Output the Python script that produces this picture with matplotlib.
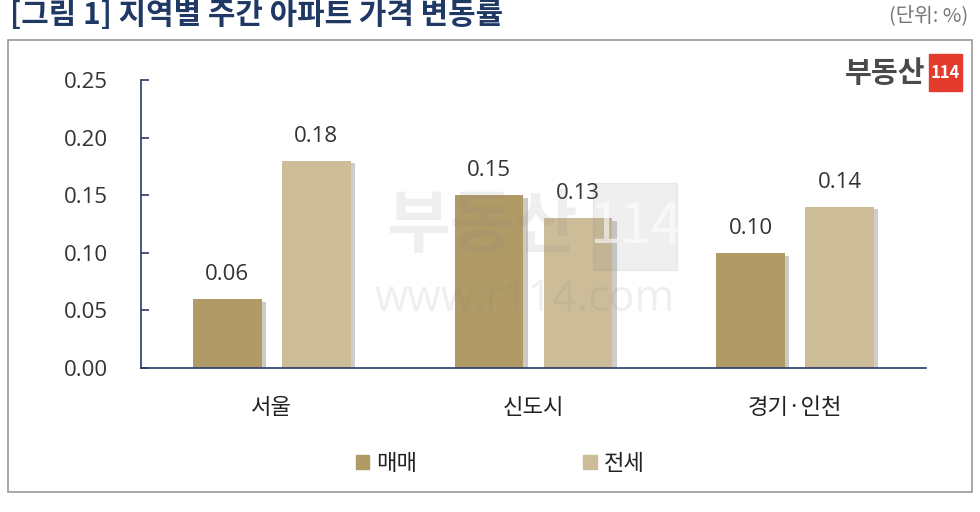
import matplotlib
matplotlib.use('Agg')
import matplotlib.pyplot as plt
import matplotlib.patheffects as pe
import numpy as np
from matplotlib.patches import Rectangle

plt.rcParams['font.family'] = ['Noto Sans CJK KR', 'DejaVu Sans']

# data
regions = ['서울', '신도시', '경기·인천']
sale = [0.06, 0.15, 0.10]     # 매매
jeonse = [0.18, 0.13, 0.14]   # 전세
series_names = ['매매', '전세']
yticks = [0.00, 0.05, 0.10, 0.15, 0.20, 0.25]

C_SALE = '#B09A66'
C_JEONSE = '#CDBC98'
NAVY = '#2B3A67'
NUM_FONT = ['Open Sans', 'Noto Sans CJK KR']

fig = plt.figure(figsize=(9.8, 5.12), dpi=100)

# outer frame
fig.patches.append(Rectangle((8 / 980, 1 - 492 / 512), 964 / 980, 452 / 512,
                             transform=fig.transFigure, fill=False,
                             edgecolor='#9A9A9A', linewidth=1.2))

fig.text(10 / 980, 1 - 15 / 512, '[그림 1] 지역별 주간 아파트 가격 변동률',
         fontsize=21.5, fontweight='bold', color='#1F3864', va='center', ha='left')
fig.text(968 / 980, 1 - 16 / 512, '(단위: %)', fontsize=14.5, color='#777777',
         va='center', ha='right')

# logo
fig.text(925 / 980, 1 - 73 / 512, '부동산', fontsize=21, fontweight='heavy',
         color='#4A4A4A', va='center', ha='right')
fig.patches.append(Rectangle((929 / 980, 1 - 91 / 512), 33 / 980, 37 / 512,
                             transform=fig.transFigure, color='#E33B2E'))
fig.text(945.5 / 980, 1 - 72.5 / 512, '114', fontsize=12, fontweight='bold',
         color='white', va='center', ha='center')

ax = fig.add_axes([141 / 980, 1 - 368 / 512, 785 / 980, 288 / 512])

x = np.arange(len(regions))
w = 0.263
off = 0.17
shadow = [pe.SimplePatchShadow(offset=(3, -2), alpha=0.25), pe.Normal()]
b1 = ax.bar(x - off, sale, w, color=C_SALE, zorder=2, path_effects=shadow)
b2 = ax.bar(x + off, jeonse, w, color=C_JEONSE, zorder=2, path_effects=shadow)

for bars, vals in ((b1, sale), (b2, jeonse)):
    for r, v in zip(bars, vals):
        ax.annotate('%.2f' % v, (r.get_x() + r.get_width() / 2, v),
                    xytext=(0, 10), textcoords='offset points', family=NUM_FONT,
                    ha='center', va='bottom', fontsize=16, color='#333333')

ax.set_xlim(-0.5, 2.5)
ax.set_ylim(0, 0.25)
ax.set_yticks(yticks)
ax.set_yticklabels(['%.2f' % t for t in yticks], family=NUM_FONT)
ax.set_xticks(x)
ax.set_xticklabels(regions)
ax.tick_params(axis='y', direction='in', length=6, color=NAVY, width=1.2,
               labelsize=16, labelcolor='#333333', pad=24)
ax.tick_params(axis='x', length=0, labelsize=16, labelcolor='#222222', pad=20)
for s in ('top', 'right'):
    ax.spines[s].set_visible(False)
for s in ('left', 'bottom'):
    ax.spines[s].set_color(NAVY)
    ax.spines[s].set_linewidth(1.2)

# watermark
fig.text(482 / 980, 1 - 227 / 512, '부동산', fontsize=50, fontweight='heavy',
         color='#808080', alpha=0.12, ha='center', va='center', zorder=5)
fig.patches.append(Rectangle((593 / 980, 1 - 270 / 512), 84 / 980, 87 / 512,
                             transform=fig.transFigure, color='#808080',
                             alpha=0.12, zorder=5))
fig.text(635 / 980, 1 - 227 / 512, '114', fontsize=40,
         color='white', alpha=0.6, ha='center', va='center', zorder=6)
fig.text(525 / 980, 1 - 300 / 512, 'www.r114.com', fontsize=31, family='Open Sans',
         color='#808080', alpha=0.12, ha='center', va='center', zorder=5)

# legend
handles = [Rectangle((0, 0), 1, 1, color=C_SALE), Rectangle((0, 0), 1, 1, color=C_JEONSE)]
leg = ax.legend(handles, series_names, loc='center',
                bbox_to_anchor=((500 - 141) / 785, 1 - (463 - 80) / 288), ncol=2,
                frameon=False, fontsize=16, handlelength=0.6, handleheight=0.6,
                handletextpad=0.3, columnspacing=7.5)
for t in leg.get_texts():
    t.set_color('#222222')

fig.savefig('out.png', dpi=100)
